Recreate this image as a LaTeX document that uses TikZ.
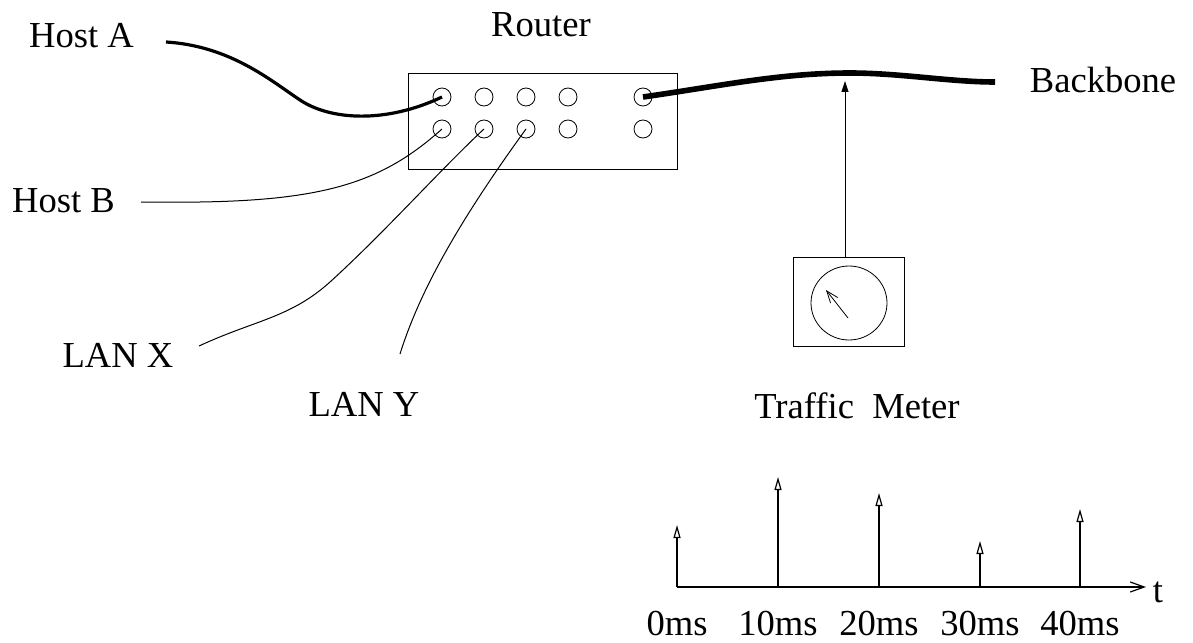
\documentclass[tikz,border=0pt]{standalone}
\usepackage{fontspec}
\setmainfont{Liberation Serif}
\usepackage{tikz}
\usetikzlibrary{arrows.meta, positioning, calc}

\tikzset{
  label/.style={font=\fontsize{18.3}{22}\selectfont, inner sep=0pt, anchor=base},
  hole/.style={circle, draw, minimum size=9pt, inner sep=0pt},
  wire/.style={line width=0.5pt},
  pulse/.style={line width=0.6pt, -{Triangle[open, length=6.5pt, width=3.5pt]}},
}

\begin{document}
\begin{tikzpicture}[x=0.5pt, y=-0.5pt]
    \useasboundingbox (0,0) rectangle (1193,642);

    % Router with its ports
    \node[draw, minimum width=134.5pt, minimum height=48pt, inner sep=0pt] (router) at (542.5,121) {};
    \node[label] (routertxt) at (541,37) {Router};
    \foreach \x [count=\i] in {442, 484, 526, 568, 643} {
      \node[hole] (p1\i) at (\x, 97) {};
      \node[hole] (p2\i) at (\x, 129) {};
    }

    % Hosts and LANs
    \node[label] (hosta) at (81.5,48) {Host A};
    \node[label] (hostb) at (63.5,212) {Host B};
    \node[label] (lanx) at (118,367) {LAN X};
    \node[label] (lany) at (364,416) {LAN Y};
    \node[label] (backbone) at (1103,93) {Backbone};

    % Cables
    \coordinate (ca) at (166,42);
    \coordinate (cb) at (141,202);
    \coordinate (cx) at (199,346);
    \coordinate (cy) at (400,354);
    \coordinate (cbb) at (995,82);
    \draw[line width=1.6pt] (ca) .. controls (230,46) and (270,80) .. (300,100)
      .. controls (330,120) and (385,124) .. (p11.center);
    \draw[wire] (cb) -- (200,202) .. controls (330,200) and (385,180) .. (p21.center);
    \draw[wire] (cx) .. controls (255,320) and (290,318) .. (330,282)
      .. controls (385,232) and (440,170) .. (p22.center);
    \draw[wire] (cy) .. controls (420,290) and (460,220) .. (p23.center);
    \draw[line width=2.8pt] (p15.center) .. controls (720,86) and (780,73) .. (850,73)
      .. controls (900,73) and (950,82) .. (cbb);

    % Traffic meter
    \node[draw, minimum width=55.5pt, minimum height=44.5pt, inner sep=0pt] (meter) at (848.5,301.5) {};
    \draw (849,303) ellipse (38 and 37);
    \coordinate (needle) at (848,318);
    \coordinate (needletip) at (826,290);
    \draw[-{Straight Barb[length=6pt, width=4.5pt]}] (needle) -- (needletip);
    \coordinate (tap) at (845,81);
    \draw[-{Triangle[length=5.5pt, width=3.5pt]}] (meter.north -| tap) -- (tap);
    \node[label] (metertxt) at (857,418) {Traffic\ \ Meter};

    % Pulse train
    \coordinate (origin) at (677,587);
    \coordinate (tend) at (1146,587);
    \draw[line width=0.6pt, -{Straight Barb[length=7pt, width=5pt]}] (origin) -- (tend);
    \node[label] (taxis) at (1158,602) {t};
    \foreach \x/\h/\t in {677/525/0ms, 778/477/10ms, 879/493/20ms, 980/541/30ms, 1080/509/40ms} {
      \coordinate (b\t) at (\x,587);
      \coordinate (u\t) at (\x,\h);
      \draw[pulse] (b\t) -- (u\t);
      \node[label] (l\t) at (\x,635) {\t};
    }
\end{tikzpicture}
\end{document}
